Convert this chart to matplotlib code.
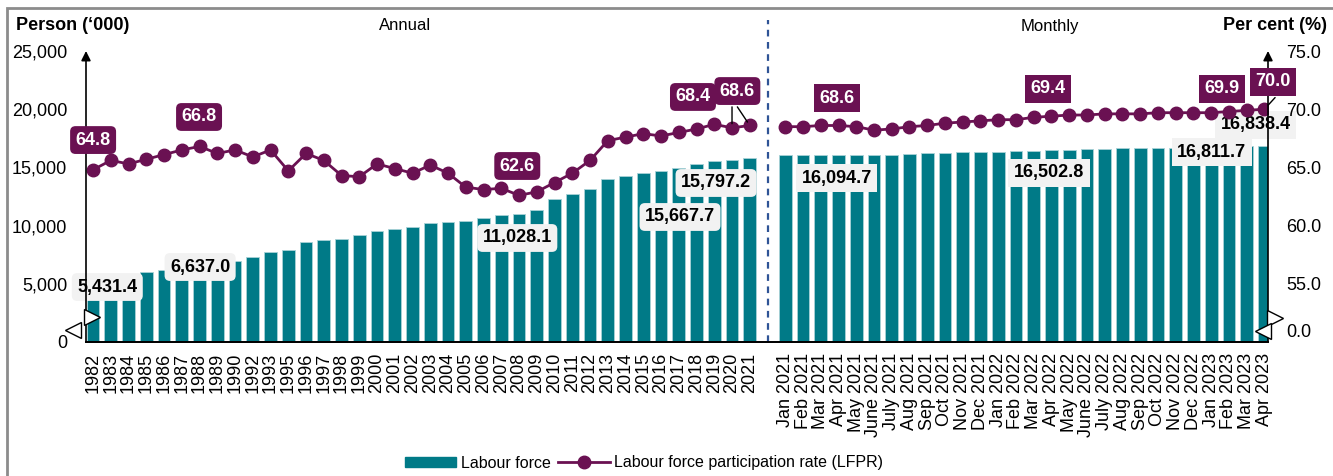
import numpy as np
import matplotlib.pyplot as plt
from matplotlib.patches import Patch, Rectangle
from matplotlib.lines import Line2D

plt.rcParams['font.family'] = ['Liberation Sans', 'DejaVu Sans']

# annual data (1991 and 1994 not shown)
years = ['1982', '1983', '1984', '1985', '1986', '1987', '1988', '1989', '1990',
         '1992', '1993', '1995', '1996', '1997', '1998', '1999', '2000', '2001',
         '2002', '2003', '2004', '2005', '2006', '2007', '2008', '2009', '2010',
         '2011', '2012', '2013', '2014', '2015', '2016', '2017', '2018', '2019',
         '2020', '2021']
lf_annual = [5431.4, 5672, 5862, 5990, 6222, 6457, 6637.0, 6779, 7000,
             7319, 7700, 7893, 8600, 8784, 8881, 9151, 9556, 9699,
             9886, 10240, 10346, 10413, 10629, 10890, 11028.1, 11315, 12304,
             12676, 13120, 13981, 14264, 14518, 14668, 14953, 15280, 15582,
             15667.7, 15797.2]
lfpr_annual = [64.8, 65.6, 65.3, 65.7, 66.1, 66.5, 66.8, 66.2, 66.5,
               65.9, 66.5, 64.7, 66.2, 65.6, 64.3, 64.2, 65.3, 64.9,
               64.5, 65.2, 64.5, 63.3, 63.1, 63.2, 62.6, 62.9, 63.7,
               64.5, 65.6, 67.3, 67.6, 67.9, 67.7, 68.0, 68.3, 68.7,
               68.4, 68.6]

# monthly data Jan 2021 - Apr 2023
months = ['Jan 2021', 'Feb 2021', 'Mar 2021', 'Apr 2021', 'May 2021', 'June 2021',
          'July 2021', 'Aug 2021', 'Sep 2021', 'Oct 2021', 'Nov 2021', 'Dec 2021',
          'Jan 2022', 'Feb 2022', 'Mar 2022', 'Apr 2022', 'May 2022', 'June 2022',
          'July 2022', 'Aug 2022', 'Sep 2022', 'Oct 2022', 'Nov 2022', 'Dec 2022',
          'Jan 2023', 'Feb 2023', 'Mar 2023', 'Apr 2023']
lf_monthly = [16060, 16075, 16085, 16094.7, 16090, 16070,
              16065, 16125, 16210, 16265, 16295, 16325,
              16350, 16410, 16435, 16502.8, 16500, 16555,
              16580, 16640, 16645, 16665, 16700, 16740,
              16770, 16790, 16811.7, 16838.4]
lfpr_monthly = [68.5, 68.5, 68.6, 68.6, 68.5, 68.2,
                68.3, 68.5, 68.6, 68.8, 68.9, 69.0,
                69.1, 69.1, 69.3, 69.4, 69.5, 69.5,
                69.6, 69.6, 69.6, 69.7, 69.7, 69.7,
                69.7, 69.8, 69.9, 70.0]

teal = '#007a87'
purple = '#6a1152'
grey_box = '#f2f2f2'

xa = np.arange(len(years))
xm = np.arange(len(months)) + len(years) + 1
gap = len(years)

fig = plt.figure(figsize=(13.33, 4.76), dpi=100)
ax = fig.add_axes([86/1333, 1-342/476, 1182/1333, 291/476])
ax2 = ax.twinx()

ax.bar(xa, lf_annual, width=0.72, color=teal, edgecolor='#a8d2d7', lw=0.6, zorder=2)
ax.bar(xm, lf_monthly, width=0.72, color=teal, edgecolor='#a8d2d7', lw=0.6, zorder=2)
ax2.plot(xa, lfpr_annual, color=purple, lw=2, marker='o', ms=9, zorder=3)
ax2.plot(xm, lfpr_monthly, color=purple, lw=2, marker='o', ms=9, zorder=3)

ax.set_xlim(-0.4, 66.2)
ax.set_ylim(0, 25000)
ax2.set_ylim(50, 75)

ax.set_xticks(np.concatenate([xa, xm]), years + months, rotation=90, fontsize=13)
ax.set_yticks(range(0, 25001, 5000), [f'{v:,}' for v in range(0, 25001, 5000)], fontsize=13)
ax2.set_yticks([51, 55, 60, 65, 70, 75], ['0.0', '55.0', '60.0', '65.0', '70.0', '75.0'], fontsize=13)
ax.tick_params(axis='x', length=0, pad=8)
ax.tick_params(axis='y', length=0, pad=13.5)
ax2.tick_params(axis='y', length=0, pad=13)

for a in (ax, ax2):
    for s in ('top', 'left', 'right'):
        a.spines[s].set_visible(False)
    a.spines['bottom'].set_color('black')
    a.spines['bottom'].set_linewidth(1.3)

# axis arrows
for xf in (0, 1):
    ax2.annotate('', xy=(xf, 1.0), xytext=(xf, 0), xycoords='axes fraction',
                 arrowprops=dict(arrowstyle='-|>', color='black', lw=1.2,
                                 mutation_scale=14, shrinkA=0, shrinkB=0))

# axis break markers
for xf, yf, m in [(0.005, 0.086, '>'), (-0.011, 0.041, '<'),
                  (1.006, 0.083, '>'), (0.9955, 0.038, '<')]:
    ax2.plot(xf, yf, marker=m, ms=11, mfc='white', mec='black', mew=1,
             transform=ax2.transAxes, clip_on=False, zorder=6)

# divider between annual and monthly
ax.axvline(gap, ymin=0, ymax=1.107, color='#2f5496', ls=(0, (3, 2.5)), lw=1.6,
           clip_on=False, zorder=1)

# labour force labels
lf_labels = [(0.8, 4725, 0), (6.03, 6443, 6), (23.9, 8935, 24),
             (33.07, 10739, 36), (35.1, 13660, 37)]
for tx, ty, i in lf_labels:
    ax.text(tx, ty, f'{lf_annual[i]:,.1f}', ha='center', va='center', fontsize=13,
            fontweight='bold', zorder=5,
            bbox=dict(boxstyle='round,pad=0.3,rounding_size=0.3', fc=grey_box, ec='none'))
for tx, ty, i in [(41.9, 14089, 3), (53.86, 14519, 15), (63.04, 16323, 26), (65.5, 18643, 27)]:
    ax.text(tx, ty, f'{lf_monthly[i]:,.1f}', ha='center', va='center', fontsize=13,
            fontweight='bold', zorder=5,
            bbox=dict(boxstyle='square,pad=0.3', fc=grey_box, ec='none'))

# leader lines
ax2.annotate('', xy=(36, lfpr_annual[36]), xytext=(36, 70.2),
             arrowprops=dict(arrowstyle='-', color='black', lw=1, shrinkA=0, shrinkB=3))
ax2.annotate('', xy=(37, lfpr_annual[37]), xytext=(36.3, 70.2),
             arrowprops=dict(arrowstyle='-', color='black', lw=1, shrinkA=0, shrinkB=3))
ax2.annotate('', xy=(66, lfpr_monthly[27]), xytext=(66.6, 71.0),
             arrowprops=dict(arrowstyle='-', color='black', lw=1, shrinkA=0, shrinkB=4))

# LFPR labels
for tx, ty, i in [(0, 67.35, 0), (5.97, 69.33, 6), (23.9, 65.12, 24),
                  (33.8, 71.05, 36), (36.3, 71.56, 37)]:
    ax2.text(tx, ty, f'{lfpr_annual[i]:.1f}', ha='center', va='center', fontsize=13,
             fontweight='bold', color='white', zorder=7,
             bbox=dict(boxstyle='round,pad=0.3,rounding_size=0.3', fc=purple, ec='none'))
for tx, ty, i in [(41.9, 70.96, 3), (53.8, 71.74, 15), (63.6, 71.74, 26), (66.5, 72.34, 27)]:
    ax2.text(tx, ty, f'{lfpr_monthly[i]:.1f}', ha='center', va='center', fontsize=13,
             fontweight='bold', color='white', zorder=7, clip_on=False,
             bbox=dict(boxstyle='square,pad=0.3', fc=purple, ec='none'))

fig.text(16/1333, 1-25/476, 'Person (‘000)', fontsize=13, fontweight='bold', va='center')
fig.text(1327/1333, 1-25/476, 'Per cent (%)', fontsize=13, fontweight='bold', va='center', ha='right')
fig.text(405/1333, 1-26/476, 'Annual', fontsize=12, va='center', ha='center')
fig.text(1050/1333, 1-26/476, 'Monthly', fontsize=12, va='center', ha='center')

handles = [Patch(color=teal), Line2D([], [], color=purple, lw=2, marker='o', ms=9)]
fig.legend(handles, ['Labour force', 'Labour force participation rate (LFPR)'],
           loc='center', bbox_to_anchor=(644/1333, 1-463/476), ncol=2, frameon=False,
           fontsize=11.5, handlelength=3.2, handleheight=0.55, handletextpad=0.3,
           columnspacing=0.5)

fig.add_artist(Rectangle((7/1333, -0.1), 1.2, 1.1-8/476, transform=fig.transFigure,
                         fill=False, ec='#8c8c8c', lw=2))

fig.savefig('out.png', dpi=100)
